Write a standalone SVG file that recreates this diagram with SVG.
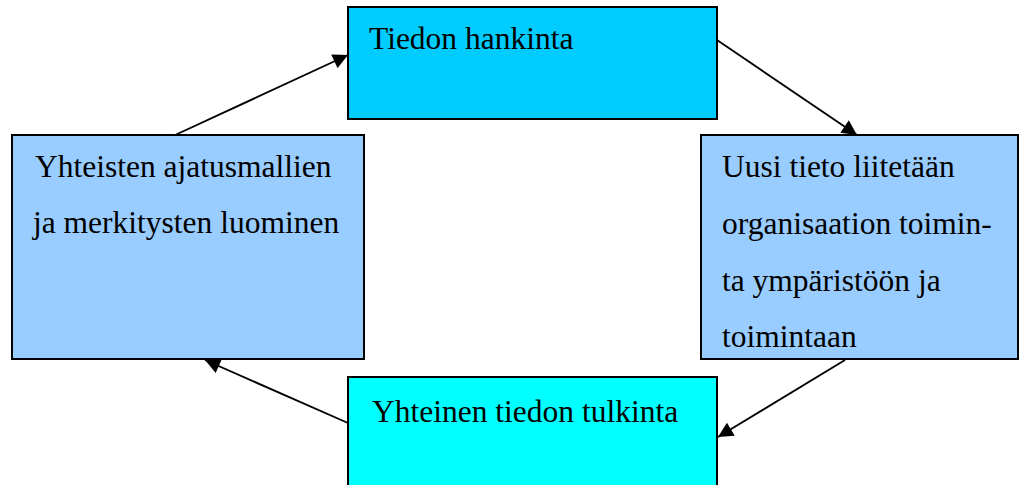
<svg xmlns="http://www.w3.org/2000/svg" width="1020" height="485" viewBox="0 0 1020 485">
<style>
.box{stroke:#000;stroke-width:2}
.c{stroke:#000;stroke-width:1.9;fill:none;marker-end:url(#ah)}
</style>
<defs>
<marker id="ah" viewBox="0 0 10 10" refX="10" refY="5" markerWidth="17" markerHeight="15" markerUnits="userSpaceOnUse" orient="auto">
<path d="M0,0 L10,5 L0,10 z" fill="#000"/>
</marker>
</defs>
<rect width="1020" height="485" fill="#fff"/>
<g id="connectors">
<line class="c" x1="173" y1="136" x2="348" y2="55"/>
<line class="c" x1="717" y1="40" x2="857" y2="135"/>
<line class="c" x1="845" y1="360" x2="718" y2="437"/>
<line class="c" x1="348" y1="423" x2="205" y2="360"/>
</g>
<g font-family="'Liberation Serif', 'Times New Roman', serif" font-size="31.5" fill="#000">
<g id="n1">
<rect class="box" x="348" y="7" width="369" height="112" fill="#00CCFF"/>
<text x="369" y="49">Tiedon hankinta</text>
</g>
<g id="n2">
<rect class="box" x="701" y="135" width="317" height="224" fill="#99CCFF"/>
<text x="722" y="177">Uusi tieto liitetään</text>
<text x="722" y="234">organisaation toimin-</text>
<text x="722" y="291">ta ympäristöön ja</text>
<text x="722" y="347">toimintaan</text>
</g>
<g id="n3">
<rect class="box" x="348" y="377" width="369" height="120" fill="#00FFFF"/>
<text x="372" y="422">Yhteinen tiedon tulkinta</text>
</g>
<g id="n4">
<rect class="box" x="12" y="135" width="352" height="224" fill="#99CCFF"/>
<text x="35" y="177">Yhteisten ajatusmallien</text>
<text x="33" y="233">ja merkitysten luominen</text>
</g>
</g>
</svg>
